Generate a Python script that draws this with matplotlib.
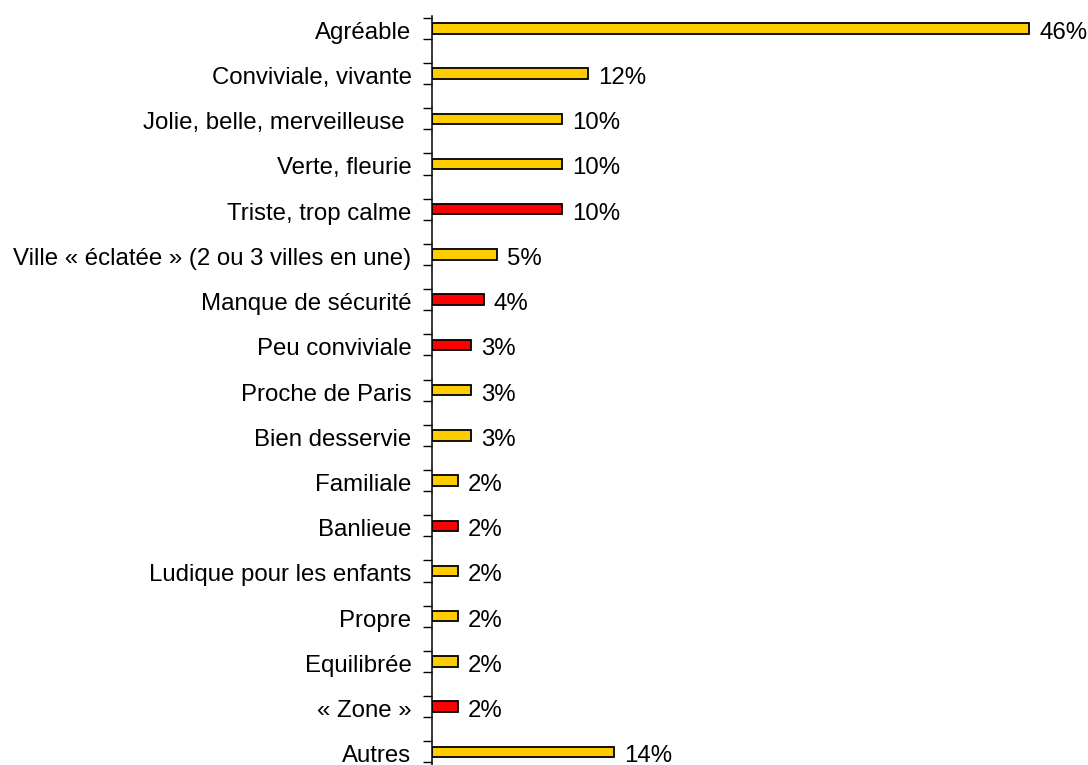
import numpy as np
import matplotlib
matplotlib.use("Agg")
import matplotlib.pyplot as plt
from matplotlib.transforms import ScaledTranslation

categories = [
    "Agréable",
    "Conviviale, vivante",
    "Jolie, belle, merveilleuse ",
    "Verte, fleurie",
    "Triste, trop calme",
    "Ville « éclatée » (2 ou 3 villes en une)",
    "Manque de sécurité",
    "Peu conviviale",
    "Proche de Paris",
    "Bien desservie",
    "Familiale",
    "Banlieue",
    "Ludique pour les enfants",
    "Propre",
    "Equilibrée",
    "« Zone »",
    "Autres",
]
values = [46, 12, 10, 10, 10, 5, 4, 3, 3, 3, 2, 2, 2, 2, 2, 2, 14]
negative = [False, False, False, False, True, False, True, True, False, False,
            False, True, False, False, False, True, False]

GOLD = "#FFCC00"
RED = "#FF0000"

plt.rcParams["font.family"] = ["Liberation Sans", "DejaVu Sans"]

W, H, DPI = 1088, 765, 100
fig = plt.figure(figsize=(W / DPI, H / DPI), dpi=DPI)
ax_left, ax_top, ax_right = 432, 16, 1081
ax = fig.add_axes([ax_left / W, 0, (ax_right - ax_left) / W, (H - ax_top) / H])

y = np.arange(len(categories))
colors = [RED if n else GOLD for n in negative]
ax.barh(y, values, height=0.23, color=colors, edgecolor="black", linewidth=1.3)

ax.set_xlim(0, 50)
ax.set_ylim(16.29, -0.272)

# tick marks sit just above and below each bar
ax.set_yticks(np.concatenate([y - 0.233, y + 0.233]))
ax.set_yticklabels([])
ax.tick_params(axis="y", direction="out", length=6.5, width=1.0, color="black")
ax.set_xticks([])
for side in ("top", "right", "bottom"):
    ax.spines[side].set_visible(False)
ax.spines["left"].set_linewidth(1.1)

fs = 17.3
lab_off = ax.transData + ScaledTranslation(-0.205, -0.105, fig.dpi_scale_trans)
val_off = ax.transData + ScaledTranslation(0.10, -0.105, fig.dpi_scale_trans)
for yi, cat, v in zip(y, categories, values):
    ax.text(0, yi, cat, ha="right", va="baseline", fontsize=fs,
            transform=lab_off, clip_on=False)
    ax.text(v, yi, f"{v}%", ha="left", va="baseline", fontsize=fs,
            transform=val_off, clip_on=False)

fig.savefig("out.png", dpi=DPI)
